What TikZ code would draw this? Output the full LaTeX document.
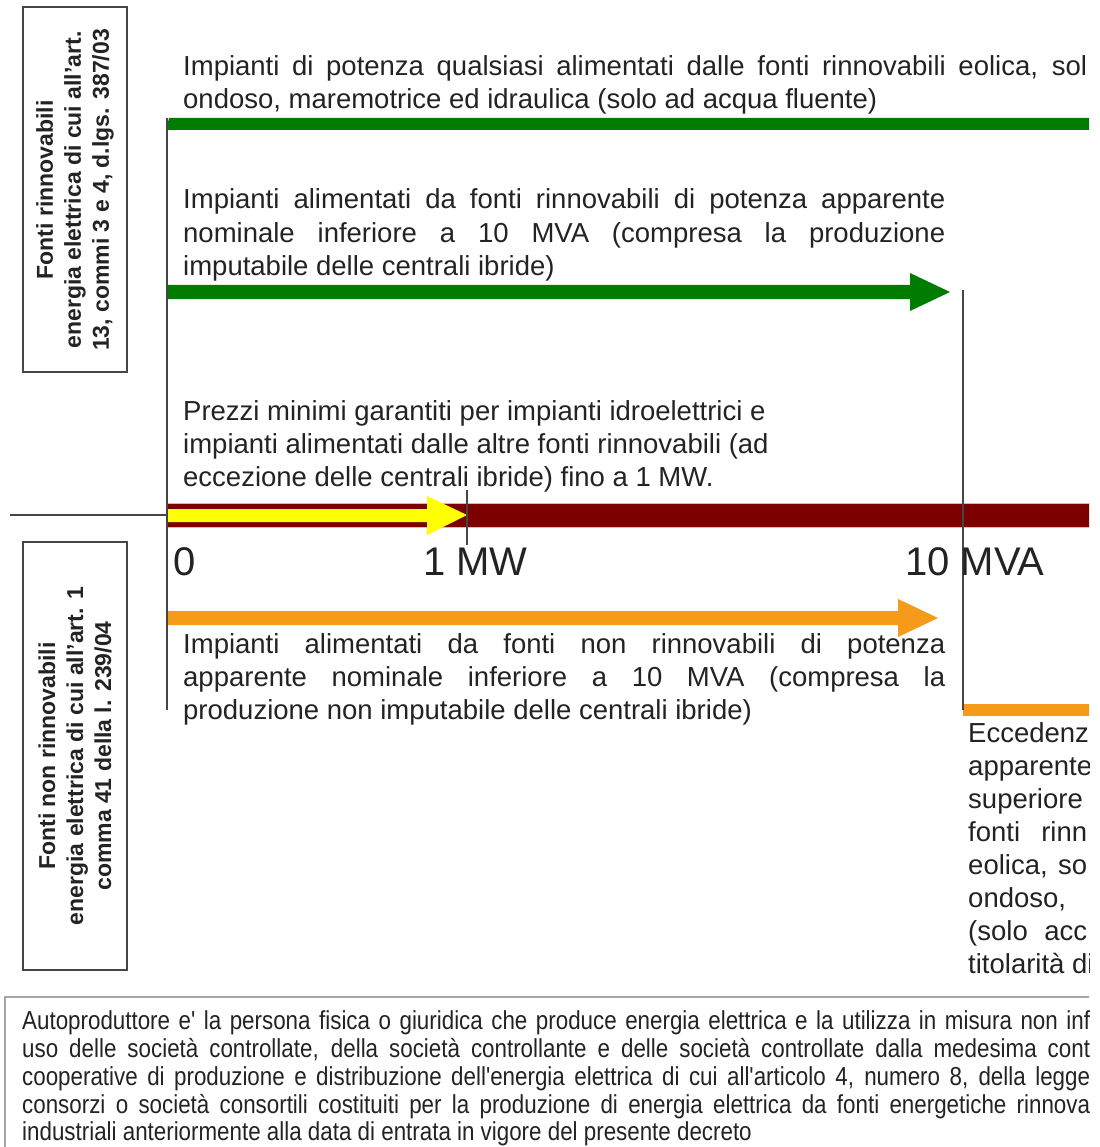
\documentclass[tikz,border=0pt]{standalone}
\usepackage{fontspec}
\setmainfont{Liberation Sans}
\newfontfamily\narrowsans[FakeStretch=0.86]{Liberation Sans}
\definecolor{grn}{RGB}{0,125,0}
\definecolor{dred}{RGB}{125,0,0}
\definecolor{yel}{RGB}{255,255,0}
\definecolor{org}{RGB}{245,155,25}
\definecolor{txtc}{RGB}{35,35,35}
\definecolor{linec}{RGB}{70,70,70}
\tikzset{
  txt/.style={anchor=base west, inner sep=0pt, text=txtc, font=\fontsize{27.5}{33}\selectfont},
  axlab/.style={anchor=base west, inner sep=0pt, text=txtc, font=\fontsize{40}{44}\selectfont},
  note/.style={anchor=base west, inner sep=0pt, text=txtc, font=\narrowsans\fontsize{26}{28}\selectfont},
  sidebox/.style={draw=linec, line width=1.6pt},
  sidetxt/.style={rotate=90, align=center, inner sep=0pt, text=txtc, font=\bfseries\fontsize{23}{28}\selectfont},
  vline/.style={draw=linec, line width=1.5pt}
}
\begin{document}
\begin{tikzpicture}[x=1pt,y=-1pt]
\useasboundingbox (0,0) rectangle (1099,1147);
\fill[white] (0,0) rectangle (1099,1147);
\begin{scope}
\clip (0,0) rectangle (1089,1147);

% side boxes
\draw[sidebox] (23,7) rectangle (127,372);
\node[sidetxt] (boxR) at (75,190) {Fonti rinnovabili\\energia elettrica di cui all'art.\\13, commi 3 e 4, d.lgs. 387/03};
\draw[sidebox] (23,542) rectangle (127,970);
\node[sidetxt] (boxN) at (75,756) {Fonti non rinnovabili\\energia elettrica di cui all'art. 1\\comma 41 della l. 239/04};

% coordinates
\coordinate (v1top) at (167,118);
\coordinate (v1bot) at (167,710);
\coordinate (v2top) at (963,290);
\coordinate (v2bot) at (963,710);
\coordinate (hl) at (10,515);
\coordinate (hr) at (167,515);
\coordinate (tkTop) at (467,490);
\coordinate (tkBot) at (467,545);

% bars and arrows
\fill[grn] (169,118) -- (1090,118) -- (1090,130) -- (166,130) -- cycle;
\fill[grn] (167,285) -- (910,285) -- (910,273) -- (950,292) -- (910,311) -- (910,299) -- (167,299) -- cycle;
\fill[dred, draw={rgb,255:red,240;green,175;blue,175}, line width=0.8pt] (167,503) rectangle (1090,527);
\fill[yel] (167,509) -- (427,509) -- (427,496) -- (467,515) -- (427,535) -- (427,522) -- (167,522) -- cycle;
\fill[org] (167,611) -- (898,611) -- (898,599) -- (938,618) -- (898,637) -- (898,625) -- (167,625) -- cycle;
\fill[org] (963,704) rectangle (1090,716);

% lines
\draw[vline] (v1top) -- (v1bot);
\draw[vline] (v2top) -- (v2bot);
\draw[vline] (hl) -- (hr);
\draw[vline] (tkTop) -- (tkBot);

% text 1
\node[txt] (t1a) at (183,76) {\makebox[904pt][s]{Impianti di potenza qualsiasi alimentati dalle fonti rinnovabili eolica, sol}};
\node[txt] (t1b) at (183,109) {ondoso, maremotrice ed idraulica (solo ad acqua fluente)};
% text 2
\node[txt] (t2a) at (183,209) {\makebox[762pt][s]{Impianti alimentati da fonti rinnovabili di potenza apparente}};
\node[txt] (t2b) at (183,243) {\makebox[762pt][s]{nominale inferiore a 10 MVA (compresa la produzione}};
\node[txt] (t2c) at (183,276) {imputabile delle centrali ibride)};
% text 3
\node[txt] (t3a) at (183,420) {Prezzi minimi garantiti per impianti idroelettrici e};
\node[txt] (t3b) at (183,453) {impianti alimentati dalle altre fonti rinnovabili (ad};
\node[txt] (t3c) at (183,486) {eccezione delle centrali ibride) fino a 1 MW.};
% axis
\node[axlab] (ax0) at (173,575) {0};
\node[axlab] (ax1) at (423,575) {1 MW};
\node[axlab] (ax10) at (905,575) {10 MVA};
% text 4
\node[txt] (t4a) at (183,653) {\makebox[762pt][s]{Impianti alimentati da fonti non rinnovabili di potenza}};
\node[txt] (t4b) at (183,686) {\makebox[762pt][s]{apparente nominale inferiore a 10 MVA (compresa la}};
\node[txt] (t4c) at (183,719) {produzione non imputabile delle centrali ibride)};
% text 5
\node[txt] (t5a) at (968,742) {Eccedenz};
\node[txt] (t5b) at (968,775) {apparente};
\node[txt] (t5c) at (968,808) {superiore};
\node[txt] (t5d) at (968,841) {\makebox[119pt][s]{fonti rinn}};
\node[txt] (t5e) at (968,874) {\makebox[119pt][s]{eolica, so}};
\node[txt] (t5f) at (968,907) {ondoso,};
\node[txt] (t5g) at (968,940) {\makebox[119pt][s]{(solo acc}};
\node[txt] (t5h) at (968,973) {titolarità di};

% bottom note
\draw[draw=gray!70, line width=2.5pt] (5,1150) -- (5,997) -- (1095,997);
\node[note] (n1) at (22,1029) {\makebox[1068pt][s]{Autoproduttore e' la persona fisica o giuridica che produce energia elettrica e la utilizza in misura non inf}};
\node[note] (n2) at (22,1057) {\makebox[1068pt][s]{uso delle società controllate, della società controllante e delle società controllate dalla medesima cont}};
\node[note] (n3) at (22,1085) {\makebox[1068pt][s]{cooperative di produzione e distribuzione dell'energia elettrica di cui all'articolo 4, numero 8, della legge}};
\node[note] (n4) at (22,1113) {\makebox[1068pt][s]{consorzi o società consortili costituiti per la produzione di energia elettrica da fonti energetiche rinnova}};
\node[note] (n5) at (22,1140) {industriali anteriormente alla data di entrata in vigore del presente decreto};
\end{scope}
\end{tikzpicture}
\end{document}
